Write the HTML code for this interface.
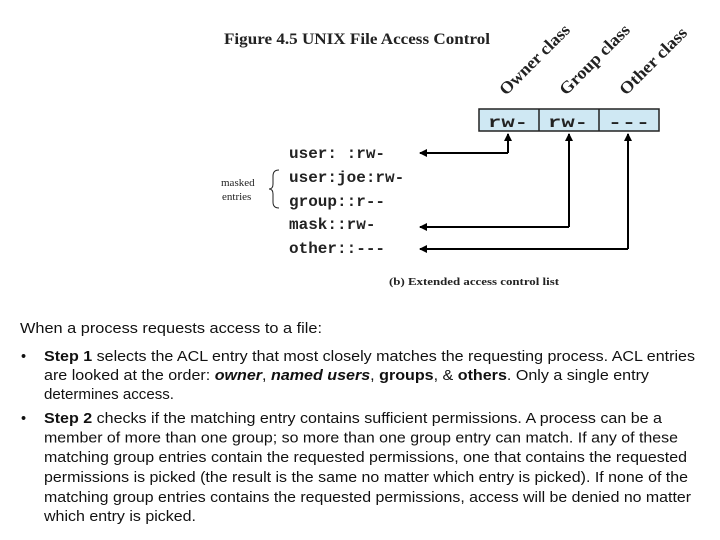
<!DOCTYPE html>
<html><head><meta charset="utf-8"><style>
html,body{margin:0;padding:0;background:#fff;}
svg{display:block;}
.m{font-family:"Liberation Mono",monospace;font-size:16px;font-weight:bold;fill:#222;}
.t{font-family:"Liberation Sans",Arial,sans-serif;font-size:14.5px;fill:#111;}
.s{font-family:"Liberation Serif",serif;fill:#222;}
</style></head><body>
<svg width="720" height="540" viewBox="0 0 720 540" xmlns="http://www.w3.org/2000/svg">
<defs><marker id="a" markerWidth="8" markerHeight="8" refX="7" refY="4" orient="auto" markerUnits="userSpaceOnUse"><path d="M0,0 L8,4 L0,8 z" fill="#000"/></marker></defs>
<text class="s" x="224" y="44" font-size="16" font-weight="bold" textLength="266" lengthAdjust="spacingAndGlyphs">Figure 4.5   UNIX File Access Control</text>
<text class="s" font-size="17" font-weight="bold" textLength="92" lengthAdjust="spacingAndGlyphs" transform="translate(506,96) rotate(-45)">Owner class</text>
<text class="s" font-size="17" font-weight="bold" textLength="92" lengthAdjust="spacingAndGlyphs" transform="translate(566,96) rotate(-45)">Group class</text>
<text class="s" font-size="17" font-weight="bold" textLength="88" lengthAdjust="spacingAndGlyphs" transform="translate(626,96) rotate(-45)">Other class</text>
<rect x="479" y="109" width="180" height="22" fill="#cfe8f3" stroke="#222" stroke-width="1.5"/>
<line x1="539" y1="109" x2="539" y2="131" stroke="#222" stroke-width="1.5"/>
<line x1="599" y1="109" x2="599" y2="131" stroke="#222" stroke-width="1.5"/>
<text class="m" x="488" y="127" font-size="21" textLength="40" lengthAdjust="spacingAndGlyphs">rw-</text>
<text class="m" x="548" y="127" font-size="21" textLength="40" lengthAdjust="spacingAndGlyphs">rw-</text>
<text class="m" x="608" y="127" font-size="21" textLength="42" lengthAdjust="spacingAndGlyphs">---</text>
<g stroke="#000" stroke-width="2" fill="none">
<path d="M508,153 L508,134" marker-end="url(#a)"/>
<path d="M508,153 L420,153" marker-end="url(#a)"/>
<path d="M569,227 L569,134" marker-end="url(#a)"/>
<path d="M569,227 L420,227" marker-end="url(#a)"/>
<path d="M628,249 L628,134" marker-end="url(#a)"/>
<path d="M628,249 L420,249" marker-end="url(#a)"/>
</g>
<text class="m" x="289" y="158">user: :rw-</text>
<text class="m" x="289" y="182">user:joe:rw-</text>
<text class="m" x="289" y="206">group::r--</text>
<text class="m" x="289" y="229">mask::rw-</text>
<text class="m" x="289" y="253">other::---</text>
<text class="s" x="221" y="186" font-size="11">masked</text>
<text class="s" x="222" y="200" font-size="11">entries</text>
<path d="M279,170 Q273,170 273,176 L273,184 Q273,189 269,189 Q273,189 273,194 L273,202 Q273,208 279,208" stroke="#222" stroke-width="1" fill="none"/>
<text class="s" x="389" y="285" font-size="11" font-weight="bold" textLength="170" lengthAdjust="spacingAndGlyphs">(b) Extended access control list</text>
<text class="t" x="20" y="333" textLength="302" lengthAdjust="spacingAndGlyphs">When a process requests access to a file:</text>
<text class="t" x="21" y="361">•</text>
<text class="t" x="44" y="361" textLength="651" lengthAdjust="spacingAndGlyphs"><tspan font-weight="bold">Step 1</tspan> selects the ACL entry that most closely matches the requesting process. ACL entries</text>
<text class="t" x="44" y="380" textLength="605" lengthAdjust="spacingAndGlyphs">are looked at the order: <tspan font-weight="bold" font-style="italic">owner</tspan>, <tspan font-weight="bold" font-style="italic">named users</tspan>, <tspan font-weight="bold">groups</tspan>, &amp; <tspan font-weight="bold">others</tspan>.  Only a single entry</text>
<text class="t" x="44" y="399" textLength="130" lengthAdjust="spacingAndGlyphs">determines access.</text>
<text class="t" x="21" y="423">•</text>
<text class="t" x="44" y="423" textLength="618" lengthAdjust="spacingAndGlyphs"><tspan font-weight="bold">Step 2</tspan> checks if the matching entry contains sufficient permissions. A process can be a</text>
<text class="t" x="44" y="442.5" textLength="634" lengthAdjust="spacingAndGlyphs">member of more than one group; so more than one group entry can match. If any of these</text>
<text class="t" x="44" y="462" textLength="643" lengthAdjust="spacingAndGlyphs">matching group entries contain the requested permissions, one that contains the requested</text>
<text class="t" x="44" y="482" textLength="644" lengthAdjust="spacingAndGlyphs">permissions is picked (the result is the same no matter which entry is picked). If none of the</text>
<text class="t" x="44" y="502" textLength="647" lengthAdjust="spacingAndGlyphs">matching group entries contains the requested permissions, access will be denied no matter</text>
<text class="t" x="44" y="521" textLength="152" lengthAdjust="spacingAndGlyphs">which entry is picked.</text>
</svg>
</body></html>
